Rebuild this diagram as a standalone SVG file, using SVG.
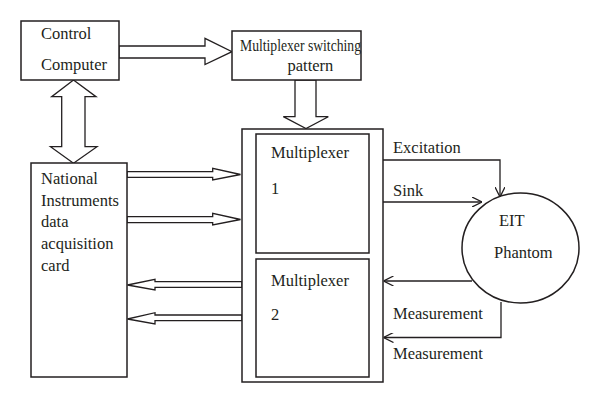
<svg xmlns="http://www.w3.org/2000/svg" width="600" height="403" viewBox="0 0 600 403">
<defs>
<style>
.box{fill:#fff;stroke:#231f20;stroke-width:1.5}
.blk{fill:#fff;stroke:#231f20;stroke-width:1.3;stroke-linejoin:miter}
.ln{fill:none;stroke:#231f20;stroke-width:1.3}
text{font-family:"Liberation Serif","Times New Roman",serif;font-size:16.5px;fill:#231f20}
.sm{font-size:16px}
</style>
<marker id="ah" viewBox="0 0 10 10" refX="10" refY="5" markerWidth="10" markerHeight="10" markerUnits="userSpaceOnUse" orient="auto">
<path d="M0,0 L10,5 L0,10" fill="none" stroke="#231f20" stroke-width="1.3"/>
</marker>
</defs>
<rect width="600" height="403" fill="#fff"/>
<g id="connectors">
<polygon class="blk" points="119,46 205,46 205,38.3 232,51.7 205,64.5 205,58 119,58"/>
<polygon class="blk" points="295,80 295,116.7 283.3,116.7 306,128.5 328.3,116.7 316,116.7 316,80"/>
<polygon class="blk" points="73.5,80 96,96.7 85,96.7 85,146.7 97,146.7 73.5,163.3 50.5,146.7 61.7,146.7 61.7,96.7 51.7,96.7"/>
<polygon class="blk" points="127,171.7 212.7,171.7 212.7,168.3 240.5,174.5 212.7,180 212.7,177.3 127,177.3"/>
<polygon class="blk" points="127,216.7 212.7,216.7 212.7,213.3 240.5,219.5 212.7,225 212.7,222.7 127,222.7"/>
<polygon class="blk" points="242,281.7 155,281.7 155,279.3 127.5,285 155,290 155,287.3 242,287.3"/>
<polygon class="blk" points="242,315 155,315 155,312.7 127.5,319 155,324 155,320.7 242,320.7"/>
<polyline class="ln" points="383,160 500,160 500,197" marker-end="url(#ah)"/>
<line class="ln" x1="383" y1="202" x2="482" y2="202" marker-end="url(#ah)"/>
<line class="ln" x1="472" y1="281" x2="383.5" y2="281" marker-end="url(#ah)"/>
<polyline class="ln" points="501,302 501,337.5 383.5,337.5" marker-end="url(#ah)"/>
</g>
<g id="control-computer">
<rect class="box" x="21" y="21" width="98" height="59"/>
<text x="41" y="39">Control</text>
<text x="41" y="70">Computer</text>
</g>
<g id="mux-pattern">
<rect class="box" x="232" y="31" width="129" height="49"/>
<text class="sm" x="240" y="51" textLength="121" lengthAdjust="spacingAndGlyphs">Multiplexer switching</text>
<text x="287.5" y="71">pattern</text>
</g>
<g id="ni-card">
<rect class="box" x="31" y="163" width="96" height="214"/>
<text x="41" y="184">National</text>
<text x="41" y="205.5">Instruments</text>
<text x="41" y="227">data</text>
<text x="41" y="249">acquisition</text>
<text x="41" y="271">card</text>
</g>
<g id="mux-outer">
<rect class="box" x="242" y="129" width="141" height="253"/>
</g>
<g id="mux1">
<rect class="box" x="256" y="134" width="113" height="119"/>
<text x="271" y="158">Multiplexer</text>
<text x="271" y="194">1</text>
</g>
<g id="mux2">
<rect class="box" x="256" y="259" width="113" height="118"/>
<text x="271" y="286">Multiplexer</text>
<text x="271" y="320">2</text>
</g>
<g id="eit-phantom">
<ellipse class="box" cx="520.5" cy="248" rx="58.5" ry="55"/>
<text x="499" y="226">EIT</text>
<text x="494" y="258">Phantom</text>
</g>
<g id="labels">
<text x="393" y="153">Excitation</text>
<text x="393" y="196">Sink</text>
<text x="393" y="319">Measurement</text>
<text x="393" y="359">Measurement</text>
</g>
</svg>
